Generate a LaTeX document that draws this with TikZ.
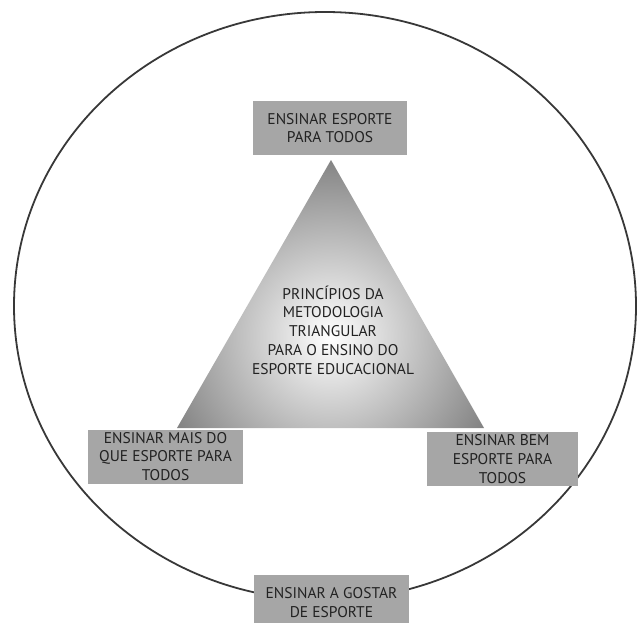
\documentclass[tikz,border=0pt]{standalone}
\usepackage{fontspec}
\setmainfont{PT Sans}
\definecolor{boxgray}{HTML}{A6A6A6}
\definecolor{edgegray}{HTML}{7A7A7A}
\definecolor{inkgray}{HTML}{222222}
\tikzset{
  principle/.style={fill=boxgray, text=inkgray, align=center, inner sep=2pt,
    minimum width=154pt, minimum height=54pt,
    font=\fontsize{15.5}{18.7}\selectfont},
}
\begin{document}
\begin{tikzpicture}[x=1pt, y=-1pt]
\useasboundingbox (0,0) rectangle (637,623);
%\tikzstyle{every node}=[draw];
\draw [line width=1.8pt, inkgray!90] (325,306) ellipse [x radius=311, y radius=294];
\coordinate (apex) at (331,160);
\coordinate (left) at (177,428);
\coordinate (right) at (484,428);
\begin{scope}
\clip (apex) -- (right) -- (left) -- cycle;
\shade [inner color=white, outer color=edgegray] (330,336) circle (190);
\end{scope}
\node [text=inkgray, align=center, font=\fontsize{15.5}{18.7}\selectfont] (core) at (333,330)
  {PRINCÍPIOS DA\\METODOLOGIA\\TRIANGULAR\\PARA O ENSINO DO\\ESPORTE EDUCACIONAL};
\node [principle] (p1) at (330,128) {ENSINAR ESPORTE\\PARA TODOS};
\node [principle, minimum width=155pt] (p2) at (165.5,456.5) {ENSINAR MAIS DO\\QUE ESPORTE PARA\\TODOS};
\node [principle, minimum width=151pt] (p3) at (502.5,459) {ENSINAR BEM\\ESPORTE PARA\\TODOS};
\node [principle, minimum width=155pt, minimum height=60pt, text depth=5pt] (p4) at (331.5,605) {ENSINAR A GOSTAR\\DE ESPORTE};
\end{tikzpicture}
\end{document}
